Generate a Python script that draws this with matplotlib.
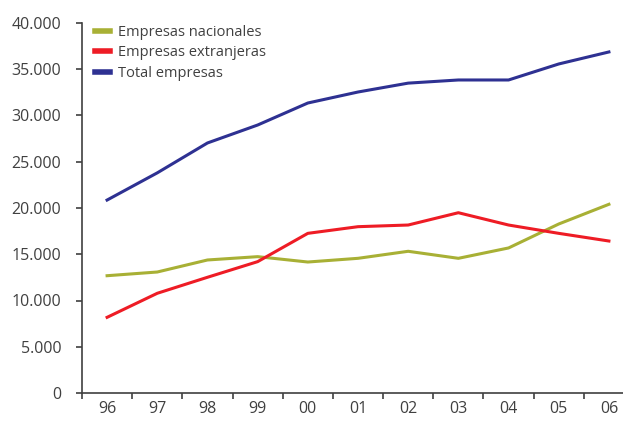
import matplotlib
matplotlib.use("Agg")
import matplotlib.pyplot as plt
import numpy as np

years = ["96", "97", "98", "99", "00", "01", "02", "03", "04", "05", "06"]
nacionales = [12680, 13080, 14380, 14740, 14160, 14560, 15320, 14560, 15680, 18270, 20400]
extranjeras = [8180, 10780, 12510, 14200, 17260, 17980, 18160, 19490, 18160, 17260, 16430]
total = [20860, 23800, 27030, 28970, 31350, 32540, 33500, 33840, 33840, 35570, 36870]
y_ticks = [0, 5000, 10000, 15000, 20000, 25000, 30000, 35000, 40000]
y_labels = ["0", "5.000", "10.000", "15.000", "20.000", "25.000", "30.000", "35.000", "40.000"]

plt.rcParams['font.family'] = ['Open Sans', 'DejaVu Sans']
grey = "#404040"

fig = plt.figure(figsize=(6.23, 4.21), dpi=100)
ax = fig.add_axes([82 / 623, 28 / 421, 552 / 623, 370 / 421])

x = np.arange(len(years))
ax.plot(x, nacionales, color="#a8b035", lw=2.2, label="Empresas nacionales")
ax.plot(x, extranjeras, color="#ee1c25", lw=2.2, label="Empresas extranjeras")
ax.plot(x, total, color="#2e3192", lw=2.2, label="Total empresas")

ax.set_xlim(-0.5, len(years) - 0.5)
ax.set_ylim(0, 40000)
ax.set_yticks(y_ticks)
ax.set_yticklabels(y_labels)
ax.set_xticks(x)
ax.set_xticklabels(years)
ax.set_xticks(np.arange(len(years) + 1) - 0.5, minor=True)

for s in ["top", "right"]:
    ax.spines[s].set_visible(False)
for s in ["left", "bottom"]:
    ax.spines[s].set_color(grey)
    ax.spines[s].set_linewidth(1.2)

ax.tick_params(axis="y", direction="out", length=4, width=1.2, color=grey,
               labelcolor=grey, labelsize=11.5, pad=11)
ax.tick_params(axis="x", which="major", length=0, labelcolor=grey, labelsize=11.5, pad=6)
ax.tick_params(axis="x", which="minor", direction="out", length=4, width=1.2, color=grey)

leg = ax.legend(loc="upper left", bbox_to_anchor=(0.0235, 0.995), frameon=False,
                fontsize=10.5, handlelength=1.05, handletextpad=0.55,
                labelspacing=0.38, borderaxespad=0, borderpad=0)
for h in leg.get_lines():
    h.set_linewidth(4)
for t in leg.get_texts():
    t.set_color(grey)

fig.savefig("out.png", dpi=100)
